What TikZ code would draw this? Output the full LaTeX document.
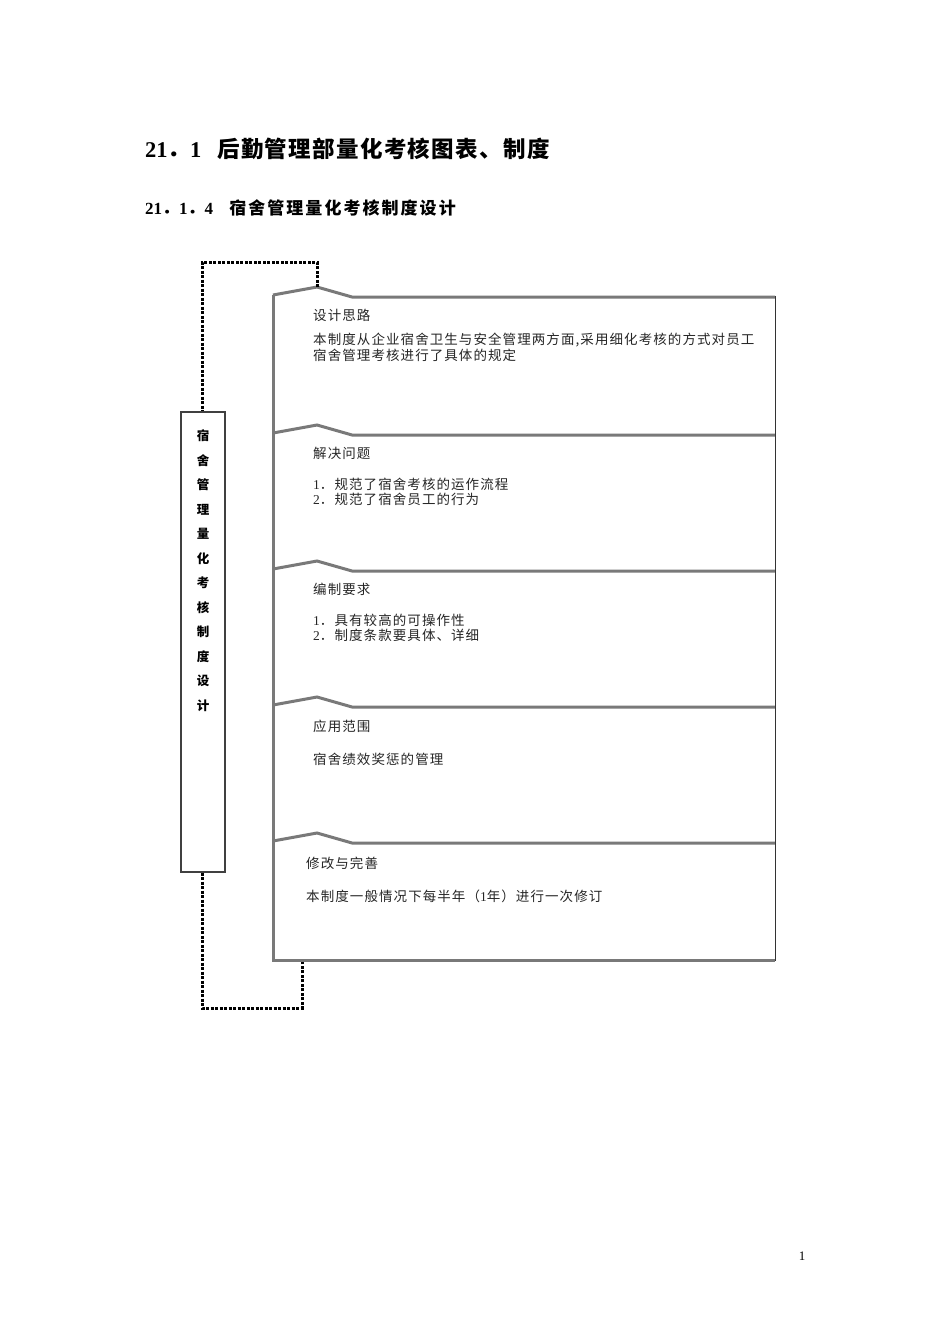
\documentclass[tikz,border=0pt]{standalone}
\usepackage{fontspec}
\setmainfont{Liberation Serif}
\newfontfamily\cjk{Noto Sans CJK SC}
\begin{document}
\begin{tikzpicture}[x=1pt,y=-1pt,
  panelline/.style={draw=gray!95!black,line width=3pt,line join=miter},
  rightline/.style={draw=black!80,line width=1pt},
  dotline/.style={draw=black,line width=3pt,dash pattern=on 3pt off 1.5pt},
  vbox/.style={draw=black!75,line width=1.2pt,minimum width=44pt,minimum height=460pt,inner sep=0pt},
  txt/.style={anchor=west,inner sep=0pt,font=\cjk\addfontfeature{LetterSpace=8}\fontsize{13.5pt}{15pt}\selectfont,text=black!85},
  head/.style={anchor=west,inner sep=0pt,font=\cjk\bfseries\addfontfeature{LetterSpace=6}\fontsize{22.5pt}{24pt}\selectfont},
  subhead/.style={anchor=west,inner sep=0pt,font=\cjk\bfseries\addfontfeature{LetterSpace=12}\fontsize{17pt}{19pt}\selectfont},
  vch/.style={inner sep=0pt,font=\cjk\bfseries\fontsize{12.5pt}{14pt}\selectfont}]
\useasboundingbox (0,0) rectangle (950,1344);
\fill[white] (0,0) rectangle (950,1344);
% headings
\node[head] (h1) at (145,149) {{\rmfamily 21}．{\rmfamily 1}\hspace{0.7em}后勤管理部量化考核图表、制度};
\node[subhead] (h2) at (145,208) {{\rmfamily 21}．{\rmfamily 1}．{\rmfamily 4}\hspace{0.95em}宿舍管理量化考核制度设计};
% panels
\foreach \t in {297,435,571,707,843}{
  \draw[panelline] (775,\t) -- (352,\t) -- (317,\t-10) -- (273,\t-2);
}
\draw[panelline] (273,295) -- (273,960) -- (775,960);
\draw[rightline] (775,296) -- (775,961);
\coordinate (peak) at (317,287);
\coordinate (bot) at (302,961.5);
% vertical box
\node[vbox] (vb) at (203,642) {};
\foreach \c [count=\i from 0] in {宿,舍,管,理,量,化,考,核,制,度,设,计}{
  \node[vch] (v\i) at (203,436+24.5*\i) {\c};
}
% dotted connectors
\draw[dotline] (peak) -- (317,262) -- (202,262) -- (vb.north -| 202,0);
\draw[dotline] (vb.south -| 202,0) -- (202,1008) -- (302,1008) -- (bot);
% texts
\node[txt] (t1) at (313,315) {设计思路};
\node[txt] (t1a) at (313,340) {本制度从企业宿舍卫生与安全管理两方面,采用细化考核的方式对员工};
\node[txt] (t1b) at (313,355) {宿舍管理考核进行了具体的规定};
\node[txt] (t2) at (313,453) {解决问题};
\node[txt] (t2a) at (313,484) {{\rmfamily 1}．规范了宿舍考核的运作流程};
\node[txt] (t2b) at (313,499) {{\rmfamily 2}．规范了宿舍员工的行为};
\node[txt] (t3) at (313,589) {编制要求};
\node[txt] (t3a) at (313,620) {{\rmfamily 1}．具有较高的可操作性};
\node[txt] (t3b) at (313,635) {{\rmfamily 2}．制度条款要具体、详细};
\node[txt] (t4) at (313,726) {应用范围};
\node[txt] (t4a) at (313,759) {宿舍绩效奖惩的管理};
\node[txt] (t5) at (306,863) {修改与完善};
\node[txt] (t5a) at (306,896) {本制度一般情况下每半年（{\rmfamily 1}年）进行一次修订};
\node[inner sep=0pt,font=\fontsize{13pt}{14pt}\selectfont] (pg) at (802,1256) {1};
\end{tikzpicture}
\end{document}
